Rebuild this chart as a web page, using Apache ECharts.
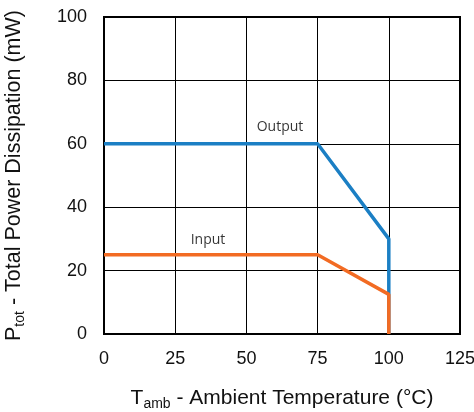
<!DOCTYPE html>
<html><head><meta charset="utf-8">
<script src="https://cdn.jsdelivr.net/npm/echarts@6/dist/echarts.min.js"></script>
<style>html,body{margin:0;padding:0;background:#fff}#c{width:474px;height:412px}</style>
</head><body><div id="c"></div>
<script>
var temps = [0, 75, 100, 100];
var outputPower = [60, 60, 30, 0];
var inputPower = [25, 25, 12.5, 0];
var xTicks = [0, 25, 50, 75, 100, 125];
var yTicks = [0, 20, 40, 60, 80, 100];
var labels = [
  {name: 'Output', x: 61.8, y: 65.3},
  {name: 'Input', x: 36.5, y: 29.6}
];
function pairs(xs, ys){ return xs.map(function(x,i){return [x, ys[i]];}); }
var font = 'Liberation Sans, Arial, Helvetica, sans-serif';
var chart = echarts.init(document.getElementById('c'));
chart.setOption({
  animation: false,
  grid: {left: 104, right: 14, top: 17, bottom: 78, show: true, borderColor: '#000', borderWidth: 2,
         containLabel: false, outerBoundsMode: 'none'},
  xAxis: {
    type: 'value', min: xTicks[0], max: xTicks[xTicks.length-1], interval: 25,
    axisLine: {show: true, lineStyle: {color: '#000', width: 2}},
    axisTick: {show: false},
    splitLine: {show: true, lineStyle: {color: '#000', width: 1}},
    axisLabel: {color: '#111', fontSize: 18, fontFamily: font, margin: 16},
    name: '{m|T}{s|amb}{m| - Ambient Temperature (°C)}',
    nameLocation: 'middle', nameGap: 52,
    nameTextStyle: {rich: {
      m: {fontSize: 21, fontFamily: font, color: '#111'},
      s: {fontSize: 14, fontFamily: font, color: '#111', padding: [11, 0, 0, 0]}
    }}
  },
  yAxis: {
    type: 'value', min: yTicks[0], max: yTicks[yTicks.length-1], interval: 20,
    axisLine: {show: true, lineStyle: {color: '#000', width: 2}},
    axisTick: {show: false},
    splitLine: {show: true, lineStyle: {color: '#000', width: 1}},
    axisLabel: {color: '#111', fontSize: 18, fontFamily: font, margin: 17},
    name: '{m|P}{s|tot}{m| - Total Power Dissipation (mW)}',
    nameLocation: 'middle', nameGap: 77, nameRotate: 90,
    nameTextStyle: {rich: {
      m: {fontSize: 21.5, fontFamily: font, color: '#111'},
      s: {fontSize: 14, fontFamily: font, color: '#111', padding: [11, 0, 0, 0]}
    }}
  },
  series: [
    {type: 'line', data: pairs(temps, outputPower), symbol: 'none',
     lineStyle: {color: '#1b7fc4', width: 3.5}, z: 3},
    {type: 'line', data: pairs(temps, inputPower), symbol: 'none',
     lineStyle: {color: '#f26b23', width: 3.5}, z: 4},
    {type: 'scatter', symbolSize: 0, data: labels.map(function(l){return {value:[l.x,l.y], name:l.name};}),
     label: {show: true, position: 'inside', formatter: '{b}', color: '#000', fontSize: 14, fontFamily: 'Open Sans, sans-serif'}, z: 5}
  ]
});
</script></body></html>
